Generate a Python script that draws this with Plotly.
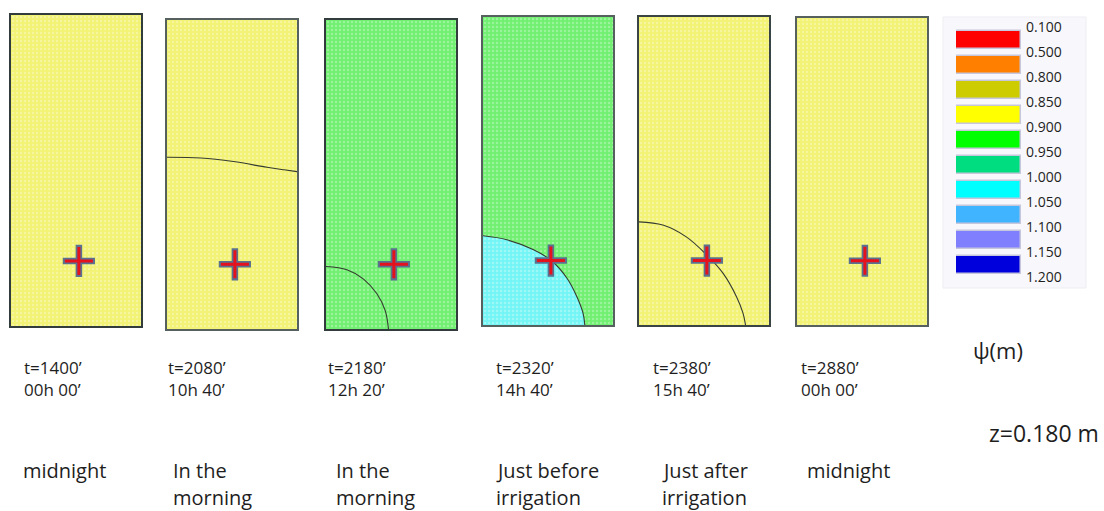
import plotly.graph_objects as go

FIG_W, FIG_H = 1104, 511

# Pressure-head classes psi (m): boundaries and class colours
PSI_BOUNDS = ["0.100", "0.500", "0.800", "0.850", "0.900", "0.950",
              "1.000", "1.050", "1.100", "1.150", "1.200"]
PSI_COLORS = ["#ff0000", "#ff8000", "#cccc00", "#ffff00", "#00ff00",
              "#00dc80", "#00ffff", "#40b4ff", "#8080ff", "#0000dd"]
# softened rendering of the classes inside the soil profiles
PSI_SHADES = {3: "#f2f275", 4: "#70ef70", 6: "#74f5f5"}

# soil profile extent (m) and emitter position
X_MAX, Z_MAX = 0.36, 0.86
EMITTER_X, EMITTER_Z = 0.188, 0.18

TIMES = ["t=1400’", "t=2080’", "t=2180’", "t=2320’", "t=2380’", "t=2880’"]
CLOCK = ["00h 00’", "10h 40’", "12h 20’", "14h 40’", "15h 40’", "00h 00’"]
PHASE = [["midnight"], ["In the", "morning"], ["In the", "morning"],
         ["Just before", "irrigation"], ["Just after", "irrigation"], ["midnight"]]

# class index of the bulk soil and of the wetted bulb in each snapshot
BACKGROUND_CLASS = [3, 3, 4, 4, 3, 3]
BULB_CLASS = [None, None, None, 6, None, None]

# isoline coordinates (m) in each snapshot
ISO_X = [[],
         [0.0, 0.094, 0.184, 0.277, 0.324, 0.36],
         [0.0, 0.058, 0.104, 0.141, 0.164, 0.173],
         [0.0, 0.066, 0.140, 0.189, 0.233, 0.260, 0.277, 0.282],
         [0.0, 0.066, 0.131, 0.188, 0.233, 0.270, 0.288, 0.295],
         []]
ISO_Z = [[],
         [0.478, 0.476, 0.466, 0.450, 0.443, 0.438],
         [0.174, 0.165, 0.139, 0.098, 0.051, 0.0],
         [0.249, 0.238, 0.210, 0.180, 0.130, 0.079, 0.033, 0.0],
         [0.288, 0.279, 0.246, 0.195, 0.144, 0.079, 0.033, 0.0],
         []]

# panel frames in pixels: left, right, top, bottom
PANEL_BOX = [(11, 141, 15, 326), (167, 297, 20, 329), (326, 456, 20, 329),
             (483, 613, 17, 325), (639, 769, 17, 325), (797, 927, 18, 325)]
FRAME_COLOR = ["#333c3c", "#56605f", "#333c3c", "#56605f", "#3a4444", "#56605f"]
TEXT_X = [23, 167, 327, 495, 652, 800]
PHASE_X = [22, 172, 335, 495, 661, 806]
TEXT_Y = [367, 389]
PHASE_Y = [470, 497]

FONT = "Open Sans, Lato, sans-serif"
INK = "#1e1e1e"


def px_x(v):
    return v / FIG_W


def px_y(v):
    return 1 - v / FIG_H


fig = go.Figure()
layout = {}

texture = dict(shape=".", size=4, solidity=0.3, fgcolor="#ffffff", fgopacity=0.3)

for i in range(6):
    n = "" if i == 0 else str(i + 1)
    xa, ya = "x" + n, "y" + n
    shade = PSI_SHADES[BACKGROUND_CLASS[i]]

    # bulk soil
    fig.add_trace(go.Scatter(
        x=[0, X_MAX, X_MAX, 0, 0], y=[0, 0, Z_MAX, Z_MAX, 0],
        mode="lines", fill="toself", fillcolor=shade, fillpattern=dict(texture, bgcolor=shade),
        line=dict(width=0), hoverinfo="skip", showlegend=False, xaxis=xa, yaxis=ya))

    # wetted bulb around the emitter
    if BULB_CLASS[i] is not None:
        bshade = PSI_SHADES[BULB_CLASS[i]]
        fig.add_trace(go.Scatter(
            x=ISO_X[i], y=ISO_Z[i], mode="lines", fill="tozeroy",
            fillcolor=bshade, fillpattern=dict(texture, bgcolor=bshade),
            line=dict(width=0, shape="spline"),
            hoverinfo="skip", showlegend=False, xaxis=xa, yaxis=ya))

    # isoline
    if ISO_X[i]:
        fig.add_trace(go.Scatter(
            x=ISO_X[i], y=ISO_Z[i], mode="lines",
            line=dict(color="#353b30", width=1.1, shape="spline"),
            hoverinfo="skip", showlegend=False, xaxis=xa, yaxis=ya))

    # emitter
    fig.add_trace(go.Scatter(
        x=[EMITTER_X], y=[EMITTER_Z], mode="markers",
        marker=dict(symbol="cross-thin", size=23, line=dict(color="#5b7190", width=6.5)),
        hoverinfo="skip", showlegend=False, cliponaxis=False, xaxis=xa, yaxis=ya))
    fig.add_trace(go.Scatter(
        x=[EMITTER_X], y=[EMITTER_Z], mode="markers",
        marker=dict(symbol="cross-thin", size=20, line=dict(color="#e3121c", width=3)),
        hoverinfo="skip", showlegend=False, cliponaxis=False, xaxis=xa, yaxis=ya))

    l, r, t, b = PANEL_BOX[i]
    axis_common = dict(showgrid=False, zeroline=False, showticklabels=False, ticks="",
                       showline=True, mirror=True, linecolor=FRAME_COLOR[i], linewidth=2,
                       fixedrange=True, automargin=False)
    layout["xaxis" + n] = dict(axis_common, domain=[px_x(l), px_x(r)], range=[0, X_MAX],
                               anchor=ya)
    layout["yaxis" + n] = dict(axis_common, domain=[px_y(b), px_y(t)], range=[0, Z_MAX],
                               anchor=xa)

# colour scale
fig.add_trace(go.Bar(
    y=[k + 0.5 for k in range(len(PSI_COLORS))], x=[1] * len(PSI_COLORS), base=0,
    orientation="h", width=0.72,
    marker=dict(color=PSI_COLORS, line=dict(color="#c6c6dc", width=1.5)),
    hoverinfo="skip", showlegend=False, xaxis="x7", yaxis="y7"))
layout["xaxis7"] = dict(domain=[px_x(956), px_x(1021)], range=[0, 1], anchor="y7",
                        showgrid=False, zeroline=False, showticklabels=False, ticks="",
                        showline=False, fixedrange=True, automargin=False)
layout["yaxis7"] = dict(domain=[px_y(277), px_y(27)], range=[len(PSI_COLORS), 0],
                        anchor="x7", side="right", showgrid=False, zeroline=False,
                        showline=False, ticks="", tickmode="array",
                        tickvals=list(range(len(PSI_BOUNDS))), ticktext=PSI_BOUNDS,
                        tickfont=dict(family=FONT, size=14, color=INK),
                        ticklabelstandoff=4, fixedrange=True, automargin=False)

annotations = []
for i in range(6):
    for text, y in zip([TIMES[i], CLOCK[i]], TEXT_Y):
        annotations.append(dict(
            x=px_x(TEXT_X[i]), y=px_y(y), xref="paper", yref="paper",
            xanchor="left", yanchor="middle", showarrow=False, borderpad=0,
            text=text, font=dict(family=FONT, size=17, color=INK)))
    for text, y in zip(PHASE[i], PHASE_Y):
        annotations.append(dict(
            x=px_x(PHASE_X[i]), y=px_y(y), xref="paper", yref="paper",
            xanchor="left", yanchor="middle", showarrow=False, borderpad=0,
            text=text, font=dict(family=FONT, size=20, color=INK)))

annotations.append(dict(x=px_x(971), y=px_y(350), xref="paper", yref="paper",
                        xanchor="left", yanchor="middle", showarrow=False,
                        text="ψ(m)", font=dict(family=FONT, size=22, color=INK)))
annotations.append(dict(x=px_x(1101), y=px_y(433), xref="paper", yref="paper",
                        xanchor="right", yanchor="middle", showarrow=False,
                        text="z=0.180 m", font=dict(family=FONT, size=23, color=INK)))

shapes = [dict(type="rect", xref="paper", yref="paper", layer="below",
               x0=px_x(943), x1=px_x(1086), y0=px_y(288), y1=px_y(17),
               fillcolor="#f8f8fc", line=dict(color="#ededf3", width=1))]

fig.update_layout(
    width=FIG_W, height=FIG_H,
    margin=dict(l=0, r=0, t=0, b=0, pad=0, autoexpand=False),
    paper_bgcolor="white", plot_bgcolor="rgba(0,0,0,0)",
    annotations=annotations, shapes=shapes, bargap=0, **layout)

fig.write_html("out.html")
